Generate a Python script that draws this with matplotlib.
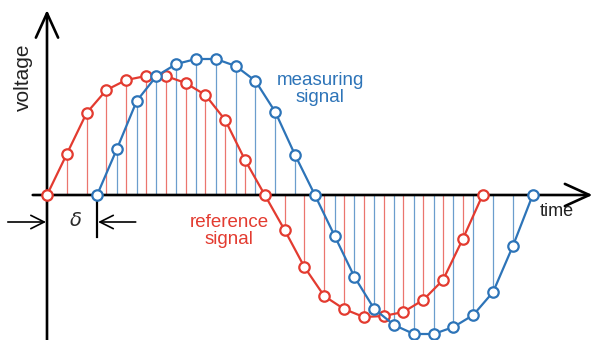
import numpy as np
import matplotlib.pyplot as plt

ref_values = [0, 41, 82, 105, 115, 119, 119, 112, 100, 75, 35, 0,
              -35, -72, -101, -114, -122, -121, -117, -105, -85, -44, 0]
meas_values = [0, 46, 94, 119, 131, 136, 136, 129, 114, 83, 40, 0,
               -41, -82, -114, -130, -139, -139, -132, -120, -97, -51, 0]
delta = 2.53  # time shift of measuring signal, in samples

red = "#e33b30"
blue = "#2d74b8"

t_ref = np.arange(len(ref_values))
t_meas = np.arange(len(meas_values)) + delta

fig = plt.figure(figsize=(5.94, 3.40), dpi=100)
ax = fig.add_axes([0, 0, 1, 1])
ax.set_xlim(-47 / 19.8, (594 - 47) / 19.8)
ax.set_ylim(-145, 195)
ax.axis("off")

# thin sample stems
ax.vlines(t_ref, 0, ref_values, color=red, lw=0.9, alpha=0.7, zorder=1)
ax.vlines(t_meas, 0, meas_values, color=blue, lw=0.9, alpha=0.7, zorder=1)

# axes with open arrow heads
axis_style = dict(arrowstyle="->, head_length=1.1, head_width=0.5",
                  color="black", lw=1.9, shrinkA=0, shrinkB=0, mutation_scale=16)
ax.annotate("", xy=(27.55, 0), xytext=(-0.72, 0), arrowprops=axis_style, zorder=2)
ax.annotate("", xy=(0, 185), xytext=(0, -150), arrowprops=axis_style, zorder=2)

# signals
ax.plot(t_ref, ref_values, color=red, lw=1.6, marker="o", ms=7.5,
        mfc="white", mec=red, mew=1.6, zorder=3)
ax.plot(t_meas, meas_values, color=blue, lw=1.6, marker="o", ms=7.5,
        mfc="white", mec=blue, mew=1.6, zorder=4)

# delta marker
small_style = dict(arrowstyle="->, head_length=0.8, head_width=0.4",
                   color="black", lw=1.2, shrinkA=0, shrinkB=0, mutation_scale=12)
ax.annotate("", xy=(-0.05, -27), xytext=(-1.98, -27), arrowprops=small_style)
ax.annotate("", xy=(delta + 0.05, -27), xytext=(delta + 1.95, -27), arrowprops=small_style)
ax.plot([delta, delta], [0, -42], color="black", lw=1.6, zorder=2)
ax.text(1.42, -25, r"$\delta$", fontsize=14, color="#2a2a2a",
        ha="center", va="center")

font = "Liberation Sans"
ax.text(-1.17, 118, "voltage", rotation=90, fontsize=15, family=font,
        ha="center", va="center", color="#222222")
ax.text(25.75, -17, "time", fontsize=13, family=font,
        ha="center", va="center", color="#222222")
ax.text(13.8, 106, "measuring\nsignal", fontsize=13.5, family=font,
        ha="center", va="center", color=blue, linespacing=1.0)
ax.text(9.2, -36, "reference\nsignal", fontsize=13.5, family=font,
        ha="center", va="center", color=red, linespacing=1.0)

fig.savefig("out.png", dpi=100)
